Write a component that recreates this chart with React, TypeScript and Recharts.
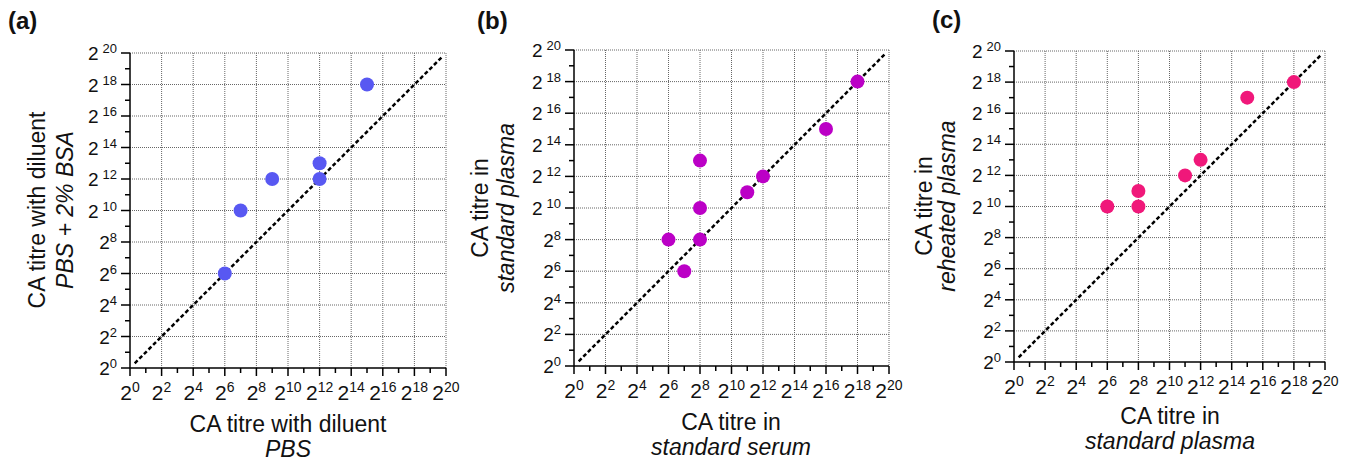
import React from "react";
import {
  ScatterChart,
  Scatter,
  XAxis,
  YAxis,
  CartesianGrid,
  ReferenceLine,
} from "recharts";

// exponents of 2 (titres are plotted on a log2 scale)
const AXIS_TICKS = [0, 1, 2, 3, 4, 5, 6, 7, 8, 9, 10, 11, 12, 13, 14, 15, 16, 17, 18, 19, 20];
const GRID_LINES = [2, 4, 6, 8, 10, 12, 14, 16, 18, 20];

// (a) diluent comparison
const A_PBS = [6, 7, 9, 12, 12, 15];
const A_PBS_BSA = [6, 10, 12, 12, 13, 18];

// (b) serum vs plasma
const B_SERUM = [6, 7, 8, 8, 8, 11, 12, 16, 18];
const B_PLASMA = [8, 6, 8, 10, 13, 11, 12, 15, 18];

// (c) standard vs reheated plasma
const C_STANDARD = [6, 8, 8, 11, 12, 15, 18];
const C_REHEATED = [10, 10, 11, 12, 13, 17, 18];

const FONT = "'Liberation Sans', Arial, Helvetica, sans-serif";

const toPoints = (xs: number[], ys: number[]) => xs.map((x, i) => ({ x, y: ys[i] }));

function XTick(props: any) {
  const { x, y, payload } = props;
  const v = payload.value as number;
  const major = v % 2 === 0;
  return (
    <g>
      <line x1={x} x2={x} y1={y} y2={y + (major ? 8 : 5)} stroke="#000" strokeWidth={1.5} />
      {major && (
        <text x={x} y={y + 32} textAnchor="middle" fontSize={21} fontFamily={FONT} fill="#111">
          2
          <tspan dy={-8} fontSize={14}>
            {v}
          </tspan>
        </text>
      )}
    </g>
  );
}

function YTick(props: any) {
  const { x, y, payload } = props;
  const v = payload.value as number;
  const major = v % 2 === 0;
  return (
    <g>
      <line x1={x - (major ? 9 : 5)} x2={x} y1={y} y2={y} stroke="#000" strokeWidth={1.5} />
      {major && (
        <text x={x - 13} y={y + 7} textAnchor="end" fontSize={19} fontFamily={FONT} fill="#111">
          2
          <tspan dx={v >= 10 ? 4 : 0} dy={-7} fontSize={13}>
            {v}
          </tspan>
        </text>
      )}
    </g>
  );
}

interface PanelProps {
  left: number;
  width: number;
  yAxisWidth: number;
  top: number;
  bottom: number;
  right: number;
  data: { x: number; y: number }[];
  color: string;
}

function Panel({ left, width, yAxisWidth, top, bottom, right, data, color }: PanelProps) {
  return (
    <div style={{ position: "absolute", left, top: 0 }}>
      <ScatterChart width={width} height={462} margin={{ top, right, bottom, left: 0 }}>
        <CartesianGrid
          stroke="#666"
          strokeWidth={1}
          strokeDasharray="1 1"
          horizontalValues={GRID_LINES}
          verticalValues={GRID_LINES}
        />
        <XAxis
          type="number"
          dataKey="x"
          domain={[0, 20]}
          ticks={AXIS_TICKS}
          interval={0}
          height={60}
          tickSize={0}
          tickMargin={0}
          tickLine={false}
          axisLine={{ stroke: "#000", strokeWidth: 1.5 }}
          tick={<XTick />}
        />
        <YAxis
          type="number"
          dataKey="y"
          domain={[0, 20]}
          ticks={AXIS_TICKS}
          interval={0}
          width={yAxisWidth}
          tickSize={0}
          tickMargin={0}
          tickLine={false}
          axisLine={{ stroke: "#000", strokeWidth: 1.5 }}
          tick={<YTick />}
        />
        <ReferenceLine
          segment={[
            { x: 0.3, y: 0.3 },
            { x: 19.8, y: 19.8 },
          ]}
          stroke="#000"
          strokeWidth={2.5}
          strokeDasharray="4 2.5"
        />
        <Scatter
          data={data}
          isAnimationActive={false}
          shape={(p: any) => <circle cx={p.cx} cy={p.cy} r={7} fill={color} />}
        />
      </ScatterChart>
    </div>
  );
}

function Title({ x, y, lines, rotate }: { x: number; y: number; lines: { text: string; italic?: boolean; dy: number }[]; rotate?: boolean }) {
  return (
    <g transform={rotate ? `rotate(-90 ${x} ${y})` : undefined}>
      {lines.map((l, i) => (
        <text
          key={i}
          x={x}
          y={y + l.dy}
          textAnchor="middle"
          fontSize={23}
          fontFamily={FONT}
          fontStyle={l.italic ? "italic" : "normal"}
          fill="#111"
        >
          {l.text}
        </text>
      ))}
    </g>
  );
}

export default function App() {
  return (
    <div style={{ position: "absolute", left: 0, top: 0, width: 1352, height: 462, background: "#fff", overflow: "hidden" }}>
      <Panel left={0} width={460} yAxisWidth={130} top={53} bottom={34} right={14} data={toPoints(A_PBS, A_PBS_BSA)} color="#5858f2" />
      <Panel left={460} width={450} yAxisWidth={114} top={50} bottom={36} right={21} data={toPoints(B_SERUM, B_PLASMA)} color="#bb00c6" />
      <Panel left={910} width={442} yAxisWidth={104} top={51} bottom={40} right={27} data={toPoints(C_STANDARD, C_REHEATED)} color="#f0187a" />

      <svg width={1352} height={462} style={{ position: "absolute", left: 0, top: 0, pointerEvents: "none" }}>
        <text x={8} y={29} fontSize={24} fontWeight="bold" fontFamily={FONT} fill="#111">(a)</text>
        <text x={477} y={29} fontSize={24} fontWeight="bold" fontFamily={FONT} fill="#111">(b)</text>
        <text x={932} y={28} fontSize={24} fontWeight="bold" fontFamily={FONT} fill="#111">(c)</text>

        <Title x={288} y={0} lines={[{ text: "CA titre with diluent", dy: 432 }, { text: "PBS", italic: true, dy: 457 }]} />
        <Title x={731} y={0} lines={[{ text: "CA titre in", dy: 430 }, { text: "standard serum", italic: true, dy: 455 }]} />
        <Title x={1170} y={0} lines={[{ text: "CA titre in", dy: 424 }, { text: "standard plasma", italic: true, dy: 449 }]} />

        <Title x={0} y={210} rotate lines={[{ text: "CA titre with diluent", dy: 45 }, { text: "PBS + 2% BSA", italic: true, dy: 73 }]} />
        <Title x={0} y={208} rotate lines={[{ text: "CA titre in", dy: 488 }, { text: "standard plasma", italic: true, dy: 514 }]} />
        <Title x={0} y={206} rotate lines={[{ text: "CA titre in", dy: 932 }, { text: "reheated plasma", italic: true, dy: 955 }]} />
      </svg>
    </div>
  );
}
